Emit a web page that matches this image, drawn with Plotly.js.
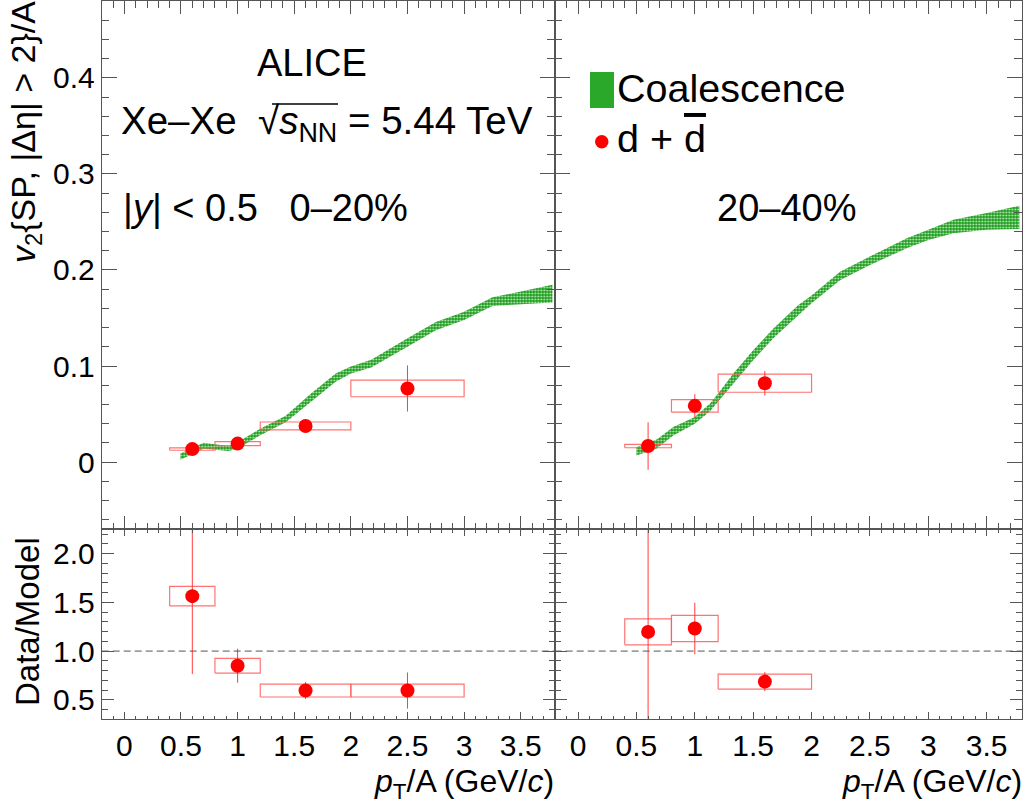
<!DOCTYPE html>
<html>
<head>
<meta charset="utf-8">
<script src="https://cdn.plot.ly/plotly-3.0.1.min.js"></script>
<style>body{margin:0;padding:0;background:#fff;} #plot{width:1028px;height:803px;}</style>
</head>
<body>
<div id="plot"></div>
<script>
// ---------------- data ----------------
// Coalescence band, 0-20%
const bandL_x  = [0.495, 0.70, 0.92, 1.0, 1.2, 1.425, 1.646, 1.866, 2.0, 2.18, 2.5, 2.75, 3.0, 3.25, 3.5, 3.78];
const bandL_hi = [0.0089, 0.0202, 0.0168, 0.0207, 0.0348, 0.0483, 0.0710, 0.0922, 0.0996, 0.1065, 0.1288, 0.1459, 0.1565, 0.1715, 0.1775, 0.1845];
const bandL_lo = [0.0025, 0.0138, 0.0114, 0.0138, 0.0279, 0.0414, 0.0626, 0.0835, 0.0922, 0.0985, 0.1200, 0.1371, 0.1479, 0.1625, 0.1640, 0.1660];
// Coalescence band, 20-40%
const bandR_x  = [0.50, 0.674, 0.816, 1.0, 1.13, 1.2, 1.33, 1.5, 1.673, 1.887, 2.0, 2.244, 2.5, 2.815, 3.0, 3.215, 3.5, 3.78];
const bandR_hi = [0.0158, 0.0234, 0.0365, 0.0469, 0.0609, 0.0714, 0.0922, 0.1163, 0.1390, 0.1635, 0.1735, 0.1982, 0.2140, 0.2331, 0.2418, 0.2522, 0.2592, 0.2668];
const bandR_lo = [0.0069, 0.0140, 0.0276, 0.0400, 0.0528, 0.0626, 0.0818, 0.1061, 0.1288, 0.1528, 0.1653, 0.1893, 0.2051, 0.2226, 0.2313, 0.2383, 0.2418, 0.2426];

// d + dbar, 0-20%
const ptL     = [0.6, 1.0, 1.6, 2.5];
const binLoL  = [0.4, 0.8, 1.2, 2.0];
const binHiL  = [0.8, 1.2, 2.0, 3.0];
const v2L     = [0.0135, 0.0192, 0.0376, 0.0766];
const v2L_stat= [0.004, 0.004, 0.007, 0.0240];
const v2L_sys = [0.0012, 0.0021, 0.0041, 0.0086];
const ratL     = [1.564, 0.85, 0.595, 0.595];
const ratL_stat= [0.80, 0.175, 0.087, 0.185];
const ratL_sys = [0.10, 0.076, 0.066, 0.066];

// d + dbar, 20-40%
const ptR     = [0.6, 1.0, 1.6];
const binLoR  = [0.4, 0.8, 1.2];
const binHiR  = [0.8, 1.2, 2.0];
const v2R     = [0.0167, 0.0585, 0.0821];
const v2R_stat= [0.0247, 0.0122, 0.0128];
const v2R_sys = [0.0018, 0.0066, 0.0094];
const ratR     = [1.197, 1.232, 0.687];
const ratR_stat= [1.2, 0.264, 0.097];
const ratR_sys = [0.133, 0.135, 0.077];

const xTickVals = [0, 0.5, 1, 1.5, 2, 2.5, 3, 3.5];
const xTickText = ['0', '0.5', '1', '1.5', '2', '2.5', '3', '3.5'];

// ---------------- styles ----------------
const FONT = 'Liberation Sans, Arial, Helvetica, sans-serif';
const RED = '#ff0000';
const BOXC = 'rgba(255,90,90,0.85)';
const AX = '#555';

function bandTrace(x, lo, hi, xa, ya) {
  return {
    x: x.concat(x.slice().reverse()),
    y: hi.concat(lo.slice().reverse()),
    xaxis: xa, yaxis: ya, mode: 'lines', fill: 'toself',
    line: {width: 0, color: '#22a022'},
    fillcolor: '#22a022',
    fillpattern: {shape: '.', bgcolor: '#1c9c1c', fgcolor: '#c8f0c8', size: 3, solidity: 0.3},
    hoverinfo: 'skip', showlegend: false
  };
}
function boxTrace(lo, hi, y, s, xa, ya) {
  const xs = [], ys = [];
  for (let i = 0; i < y.length; i++) {
    xs.push(lo[i], hi[i], hi[i], lo[i], lo[i], null);
    ys.push(y[i] - s[i], y[i] - s[i], y[i] + s[i], y[i] + s[i], y[i] - s[i], null);
  }
  return {x: xs, y: ys, xaxis: xa, yaxis: ya, mode: 'lines',
          line: {color: BOXC, width: 1.2}, hoverinfo: 'skip', showlegend: false};
}
function ptTrace(x, y, e, xa, ya) {
  return {x: x, y: y, xaxis: xa, yaxis: ya, mode: 'markers',
          marker: {color: RED, size: 14, line: {width: 0}},
          error_y: {type: 'data', array: e, visible: true, color: 'rgba(255,40,40,0.9)', thickness: 1, width: 0},
          hoverinfo: 'skip', showlegend: false};
}

const data = [
  bandTrace(bandL_x, bandL_lo, bandL_hi, 'x', 'y'),
  bandTrace(bandR_x, bandR_lo, bandR_hi, 'x2', 'y2'),
  boxTrace(binLoL, binHiL, v2L, v2L_sys, 'x', 'y'),
  boxTrace(binLoR, binHiR, v2R, v2R_sys, 'x2', 'y2'),
  boxTrace(binLoL, binHiL, ratL, ratL_sys, 'x3', 'y3'),
  boxTrace(binLoR, binHiR, ratR, ratR_sys, 'x4', 'y4'),
  ptTrace(ptL, v2L, v2L_stat, 'x', 'y'),
  ptTrace(ptR, v2R, v2R_stat, 'x2', 'y2'),
  ptTrace(ptL, ratL, ratL_stat, 'x3', 'y3'),
  ptTrace(ptR, ratR, ratR_stat, 'x4', 'y4')
];

const W = 1028, H = 803;
const px = v => v / W, py = v => 1 - v / H;
const xDomL = [px(101.7), px(554.7)], xDomR = [px(554.7), px(1021.7)];
const yDomT = [py(529.3), py(1)], yDomB = [py(719.3), py(529.3)];

function xax(dom, anchor, labels, len) {
  return {domain: dom, anchor: anchor, range: [-0.2, 3.8],
    tickmode: 'array', tickvals: xTickVals, ticktext: xTickText,
    showticklabels: labels, tickfont: {family: FONT, size: 30, color: '#000'},
    ticks: 'inside', ticklen: len, tickwidth: 1, tickcolor: AX,
    minor: {ticks: 'inside', dtick: 0.1, tick0: 0, ticklen: len / 2, tickcolor: AX, tickwidth: 1, showgrid: false},
    showline: true, linecolor: AX, linewidth: 1, mirror: 'allticks',
    showgrid: false, zeroline: false, fixedrange: true};
}
function yax(dom, anchor, labels, range, dtick, tick0, mdtick, len, fmt) {
  return {domain: dom, anchor: anchor, range: range, dtick: dtick, tick0: tick0,
    tickformat: fmt, showticklabels: labels, tickfont: {family: FONT, size: 30, color: '#000'},
    ticks: 'inside', ticklen: len, tickwidth: 1, tickcolor: AX, ticklabelstandoff: 0,
    minor: {ticks: 'inside', dtick: mdtick, tick0: tick0, ticklen: len / 2, tickcolor: AX, tickwidth: 1, showgrid: false},
    showline: true, linecolor: AX, linewidth: 1, mirror: 'allticks',
    showgrid: false, zeroline: false, fixedrange: true};
}

function ann(text, x, y, xa, ya, size, extra) {
  return Object.assign({text: text, x: px(x), y: py(y), xref: 'paper', yref: 'paper',
    xanchor: xa, yanchor: ya, showarrow: false, borderpad: 0,
    font: {family: FONT, size: size, color: '#000'}}, extra || {});
}

const annotations = [
  ann('ALICE', 311.6, 63, 'center', 'middle', 38),
  ann('Xe\u2013Xe\u00a0 \u221A<i>s</i><sub>NN</sub> = 5.44 TeV', 120, 124, 'left', 'middle', 38.5),
  ann('|<i>y</i>| < 0.5\u00a0\u00a0 0\u201320%', 122, 208, 'left', 'middle', 38),
  ann('20\u201340%', 786.7, 208, 'center', 'middle', 38),
  ann('Coalescence', 616, 88, 'left', 'middle', 39.5),
  ann('d + <span style="text-decoration:overline">d</span>', 616, 138, 'left', 'middle', 39.5),
  ann('<i>v</i><sub>2</sub>{SP, |\u0394\u03b7| > 2}/A', 25, 0, 'center', 'top', 34, {textangle: -90}),
  ann('Data/Model', 27, 622, 'center', 'middle', 33, {textangle: -90}),
  ann('<i>p</i><sub>T</sub>/A (GeV/<i>c</i>)', 555, 783, 'right', 'middle', 32),
  ann('<i>p</i><sub>T</sub>/A (GeV/<i>c</i>)', 1023, 783, 'right', 'middle', 32)
];

const shapes = [
  {type: 'line', xref: 'x3 domain', yref: 'y3', x0: 0, x1: 1, y0: 1, y1: 1, line: {color: '#555', width: 1, dash: '7px,4px'}},
  {type: 'line', xref: 'x4 domain', yref: 'y4', x0: 0, x1: 1, y0: 1, y1: 1, line: {color: '#555', width: 1, dash: '7px,4px'}},
  // radical overbar for sqrt(s_NN)
  {type: 'line', xref: 'paper', yref: 'paper', x0: px(272), x1: px(338), y0: py(104), y1: py(104), line: {color: '#000', width: 1.6}},
  // legend swatch + marker
  {type: 'rect', xref: 'paper', yref: 'paper', x0: px(590), x1: px(614), y0: py(108), y1: py(72), fillcolor: '#2aa82a', line: {width: 0}},
  {type: 'circle', xref: 'paper', yref: 'paper', x0: px(595), x1: px(608.5), y0: py(148.5), y1: py(135), fillcolor: RED, line: {width: 0}}
];

const layout = {
  width: W, height: H, margin: {l: 0, r: 0, t: 0, b: 0},
  paper_bgcolor: '#fff', plot_bgcolor: '#fff', showlegend: false,
  font: {family: FONT, color: '#000'},
  xaxis:  xax(xDomL, 'y', false, 13),
  xaxis2: xax(xDomR, 'y2', false, 13),
  xaxis3: xax(xDomL, 'y3', true, 7),
  xaxis4: xax(xDomR, 'y4', true, 7),
  yaxis:  yax(yDomT, 'x', true, [-0.07, 0.48], 0.1, 0, 0.02, 15, ''),
  yaxis2: yax(yDomT, 'x2', false, [-0.07, 0.48], 0.1, 0, 0.02, 15, ''),
  yaxis3: yax(yDomB, 'x3', true, [0.3, 2.25], 0.5, 0.5, 0.1, 12, '.1f'),
  yaxis4: yax(yDomB, 'x4', false, [0.3, 2.25], 0.5, 0.5, 0.1, 12, '.1f'),
  annotations: annotations,
  shapes: shapes
};

Plotly.newPlot('plot', data, layout, {staticPlot: true, displayModeBar: false});
</script>
</body>
</html>
